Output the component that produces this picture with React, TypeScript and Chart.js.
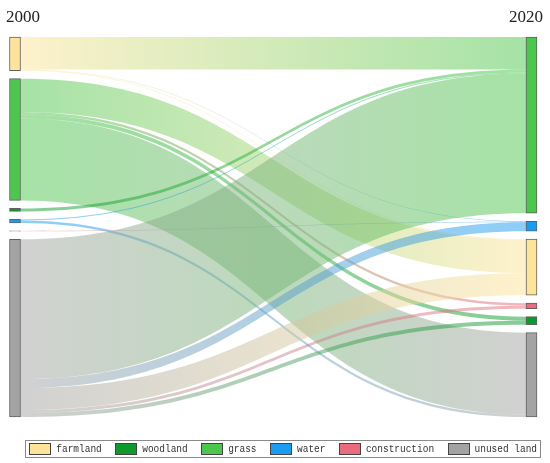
import React, { useEffect, useRef } from 'react';
import { Chart, registerables } from 'chart.js';

Chart.register(...registerables);

// ---------- data ----------
const years = ['2000', '2020'];
const landTypes = ['farmland', 'woodland', 'grass', 'water', 'construction', 'unused land'];
const landColors = ['#fde49a', '#0c9a2c', '#4cc64c', '#1a9cf0', '#ea6b7d', '#a3a3a3'];
// node order within each year column (top to bottom)
const order2000 = ['farmland', 'grass', 'woodland', 'water', 'construction', 'unused land'];
const order2020 = ['grass', 'water', 'farmland', 'construction', 'woodland', 'unused land'];
// transitions 2000 -> 2020
const flowSources = [
  'farmland', 'farmland', 'farmland',
  'grass', 'grass', 'grass', 'grass',
  'woodland',
  'water', 'water',
  'construction',
  'unused land', 'unused land', 'unused land', 'unused land', 'unused land',
];
const flowTargets = [
  'grass', 'water', 'farmland',
  'farmland', 'construction', 'woodland', 'unused land',
  'grass',
  'grass', 'unused land',
  'water',
  'grass', 'water', 'farmland', 'construction', 'woodland',
];
const flowValues = [
  32.5, 0.6, 0.6,
  33.5, 2.5, 4, 82,
  3,
  1, 2.5,
  0.4,
  140, 9, 22, 3, 4,
];

// ---------- style ----------
const NODE_W = 11;
const NODE_GAP = 8;
const LINK_ALPHA = 0.5;

function hexToRgba(hex: string, a: number) {
  const h = hex.replace('#', '');
  const r = parseInt(h.slice(0, 2), 16);
  const g = parseInt(h.slice(2, 4), 16);
  const b = parseInt(h.slice(4, 6), 16);
  return `rgba(${r},${g},${b},${a})`;
}
const colorOf = (t: string) => landColors[landTypes.indexOf(t)];

function computeLayout() {
  const sum = (a: number[]) => a.reduce((s, v) => s + v, 0);
  const leftVal = order2000.map((n) => sum(flowValues.filter((_, i) => flowSources[i] === n)));
  const rightVal = order2020.map((n) => sum(flowValues.filter((_, i) => flowTargets[i] === n)));
  const leftPos: Record<string, [number, number]> = {};
  const rightPos: Record<string, [number, number]> = {};
  let y = 0;
  order2000.forEach((n, i) => { leftPos[n] = [y, y + leftVal[i]]; y += leftVal[i] + NODE_GAP; });
  const leftEnd = y - NODE_GAP;
  y = 0;
  order2020.forEach((n, i) => { rightPos[n] = [y, y + rightVal[i]]; y += rightVal[i] + NODE_GAP; });
  const rightEnd = y - NODE_GAP;
  const span = Math.max(leftEnd, rightEnd);

  const links = flowValues.map((v, i) => ({ s: flowSources[i], t: flowTargets[i], v, sy: 0, ty: 0 }));
  order2000.forEach((n) => {
    let off = leftPos[n][0];
    links.filter((l) => l.s === n)
      .sort((a, b) => order2020.indexOf(a.t) - order2020.indexOf(b.t))
      .forEach((l) => { l.sy = off; off += l.v; });
  });
  order2020.forEach((n) => {
    let off = rightPos[n][0];
    links.filter((l) => l.t === n)
      .sort((a, b) => order2000.indexOf(a.s) - order2000.indexOf(b.s))
      .forEach((l) => { l.ty = off; off += l.v; });
  });
  return { leftPos, rightPos, span, links };
}

export default function App() {
  const ref = useRef<HTMLCanvasElement>(null);
  useEffect(() => {
    document.body.style.margin = '0';
    const canvas = ref.current;
    if (!canvas) return;
    const L = computeLayout();

    const datasets = landTypes.map((t, i) => ({
      label: t,
      data: [
        { x: 0, y: L.leftPos[t] },
        { x: 1, y: L.rightPos[t] },
      ],
      backgroundColor: landColors[i],
      borderColor: 'rgba(0,0,0,0.62)',
      borderWidth: 1,
      borderSkipped: false as const,
      barThickness: NODE_W,
      grouped: false,
      clip: false as const,
    }));

    const linkPlugin = {
      id: 'sankeyLinks',
      beforeDatasetsDraw(chart: any) {
        const { ctx } = chart;
        const xs = chart.scales.x;
        const ys = chart.scales.y;
        const x0 = xs.getPixelForValue(0) + NODE_W / 2;
        const x1 = xs.getPixelForValue(1) - NODE_W / 2;
        const xm = (x0 + x1) / 2;
        ctx.save();
        L.links.forEach((l) => {
          const s0 = ys.getPixelForValue(l.sy);
          const s1 = ys.getPixelForValue(l.sy + l.v);
          const t0 = ys.getPixelForValue(l.ty);
          const t1 = ys.getPixelForValue(l.ty + l.v);
          const g = ctx.createLinearGradient(x0, 0, x1, 0);
          g.addColorStop(0, hexToRgba(colorOf(l.s), LINK_ALPHA));
          g.addColorStop(1, hexToRgba(colorOf(l.t), LINK_ALPHA));
          ctx.fillStyle = g;
          ctx.beginPath();
          ctx.moveTo(x0, s0);
          ctx.bezierCurveTo(xm, s0, xm, t0, x1, t0);
          ctx.lineTo(x1, t1);
          ctx.bezierCurveTo(xm, t1, xm, s1, x0, s1);
          ctx.closePath();
          ctx.fill();
        });
        ctx.restore();
      },
    };

    const decorPlugin = {
      id: 'decor',
      afterDraw(chart: any) {
        const { ctx, chartArea } = chart;
        const xs = chart.scales.x;
        ctx.save();
        // year titles
        ctx.fillStyle = '#222';
        ctx.font = '17px "Liberation Serif"';
        ctx.textBaseline = 'alphabetic';
        ctx.textAlign = 'left';
        ctx.fillText(years[0], 6, 22);
        ctx.textAlign = 'right';
        ctx.fillText(years[1], chart.width - 7, 22);

        // legend
        const FS = 11, HS = 0.86, BW = 21, BH = 11, TG = 6, IG = 13.5;
        ctx.font = `${FS}px "Liberation Mono"`;
        const widths = landTypes.map((t) => ctx.measureText(t).width * HS);
        const total = landTypes.length * (BW + TG) + widths.reduce((a, b) => a + b, 0) + (landTypes.length - 1) * IG;
        const endX = xs.getPixelForValue(1) + NODE_W / 2;
        const startX = endX - total;
        const cy = chartArea.bottom + 31.5;
        ctx.strokeStyle = '#8a8a8a';
        ctx.lineWidth = 1;
        ctx.strokeRect(Math.round(startX - 4) + 0.5, Math.round(cy - 9) + 0.5, Math.round(total + 7), 17);
        let x = startX;
        ctx.textAlign = 'left';
        ctx.textBaseline = 'middle';
        landTypes.forEach((t, i) => {
          ctx.fillStyle = landColors[i];
          const bx = Math.round(x) + 0.5;
          const by = Math.round(cy - BH / 2) + 0.5;
          ctx.fillRect(bx, by, BW, BH);
          ctx.strokeStyle = '#444';
          ctx.strokeRect(bx, by, BW, BH);
          ctx.fillStyle = '#333';
          ctx.save();
          ctx.translate(x + BW + TG, cy + 0.5);
          ctx.scale(HS, 1);
          ctx.fillText(t, 0, 0);
          ctx.restore();
          x += BW + TG + widths[i] + IG;
        });
        ctx.restore();
      },
    };

    const chart = new Chart(canvas, {
      type: 'bar',
      data: { datasets: datasets as any },
      options: {
        animation: false,
        responsive: false,
        maintainAspectRatio: false,
        layout: { padding: { left: 15, right: 18.5, top: 37, bottom: 46 } },
        scales: {
          x: { type: 'linear', min: 0, max: 1, offset: false, display: false },
          y: { type: 'linear', min: 0, max: L.span, reverse: true, display: false },
        },
        plugins: {
          legend: { display: false },
          tooltip: { enabled: false },
          title: { display: false },
        },
      },
      plugins: [linkPlugin, decorPlugin],
    });
    return () => chart.destroy();
  }, []);

  return (
    <div style={{ width: 550, height: 463 }}>
      <canvas ref={ref} width={550} height={463} />
    </div>
  );
}
